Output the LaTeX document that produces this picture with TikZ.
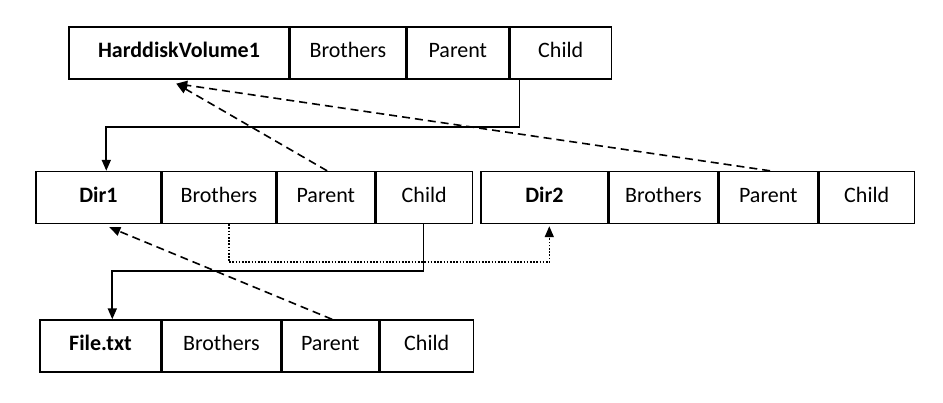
\documentclass[tikz,border=0pt]{standalone}
\usepackage{fontspec}
\setmainfont{Carlito}
\usetikzlibrary{arrows.meta,positioning}

\begin{document}
\begin{tikzpicture}[x=1pt,y=-1pt,>={Triangle[length=11pt,width=9pt]},
		cell/.style={draw,line width=1.4pt,minimum height=52pt,inner sep=0pt,text height=14pt,text depth=4pt,font=\fontsize{22}{26}\selectfont},
		name cell/.style={cell,font=\fontsize{22}{26}\selectfont\bfseries},
		link/.style={->,line width=1.8pt},
		back link/.style={->,line width=1.6pt,dash pattern=on 8pt off 5pt},
		sib link/.style={->,line width=1.6pt,dash pattern=on 1.6pt off 1.6pt}]
	\useasboundingbox (0,0) rectangle (943,403);

	% root volume
	\node[name cell,minimum width=220pt] (hv) at (179,53) {HarddiskVolume1};
	\node[cell,minimum width=115pt,right=0pt of hv] (hvb) {Brothers};
	\node[cell,minimum width=102pt,right=0pt of hvb] (hvp) {Parent};
	\node[cell,minimum width=101pt,right=0pt of hvp] (hvc) {Child};

	% Dir1
	\node[name cell,minimum width=125pt] (d1) at (98.5,197.5) {Dir1};
	\node[cell,minimum width=113pt,right=0pt of d1] (d1b) {Brothers};
	\node[cell,minimum width=98pt,right=0pt of d1b] (d1p) {Parent};
	\node[cell,minimum width=96pt,right=0pt of d1p] (d1c) {Child};

	% Dir2
	\node[name cell,minimum width=127pt] (d2) at (544.5,197.5) {Dir2};
	\node[cell,minimum width=108pt,right=0pt of d2] (d2b) {Brothers};
	\node[cell,minimum width=99pt,right=0pt of d2b] (d2p) {Parent};
	\node[cell,minimum width=95pt,right=0pt of d2p] (d2c) {Child};

	% File.txt
	\node[name cell,minimum width=121pt] (f) at (100.5,346) {File.txt};
	\node[cell,minimum width=118pt,right=0pt of f] (fb) {Brothers};
	\node[cell,minimum width=97pt,right=0pt of fb] (fp) {Parent};
	\node[cell,minimum width=93pt,right=0pt of fp] (fc) {Child};

	\coordinate (hvin) at ([xshift=108pt,yshift=-4pt]hv.south west);

	\draw[link] ([xshift=10pt]hvc.south west) -- ++(0,47) -| ([xshift=71pt]d1.north west);
	\draw[back link] ([xshift=51pt]d1p.north west) -- (hvin);
	\draw[back link] ([xshift=52pt]d2p.north west) -- (hvin);
	\draw[link] ([xshift=48pt]d1c.south west) -- ++(0,47) -| ([xshift=73pt]f.north west);
	\draw[back link] ([xshift=51pt]fp.north west) -- ([xshift=74pt,yshift=-3pt]d1.south west);
	\draw[sib link] ([xshift=67pt]d1b.south west) -- ++(0,38) -| ([xshift=69pt,yshift=-2pt]d2.south west);

\end{tikzpicture}
\end{document}
